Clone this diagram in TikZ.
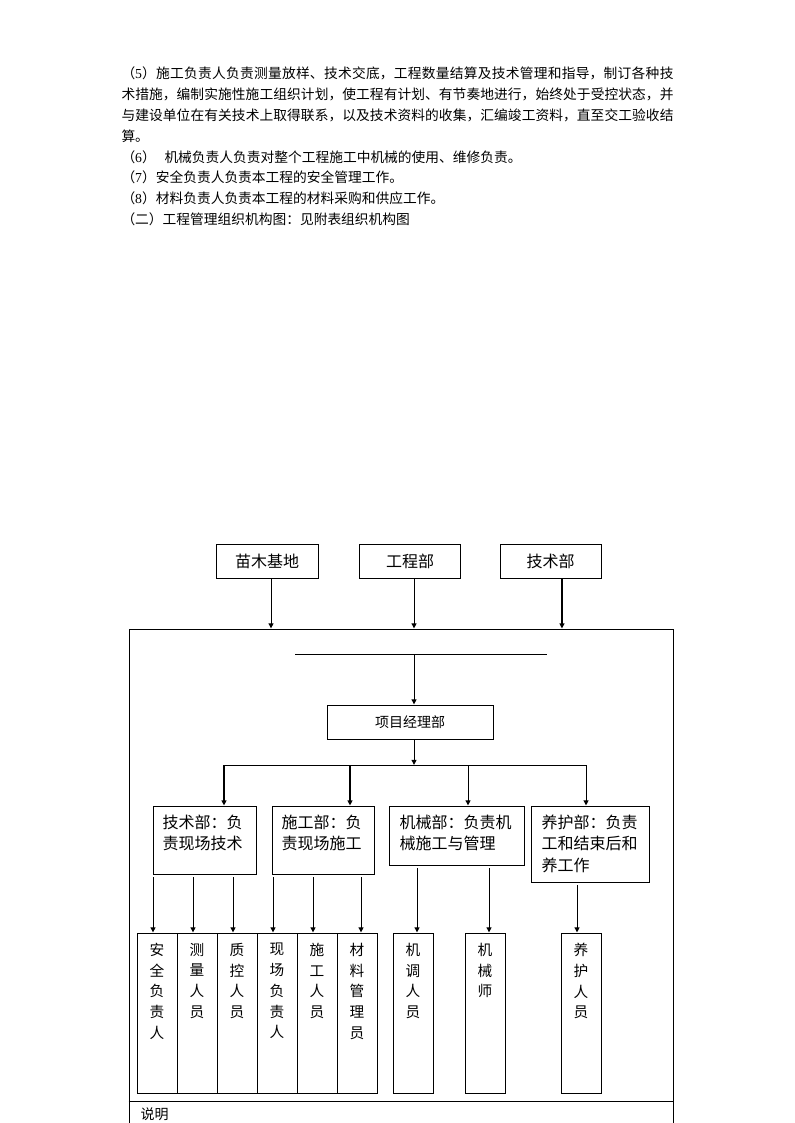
\documentclass[tikz,border=0pt]{standalone}
\usepackage{fontspec}
\newfontfamily\cjk{Noto Sans CJK SC}
\newfontfamily\lat{Liberation Serif}
\usetikzlibrary{arrows.meta}
\XeTeXlinebreaklocale "zh"
\XeTeXlinebreakskip=0pt plus 3pt
\newcommand\jline[1]{\parbox{414pt}{\parindent=0pt\parfillskip=0pt\relax #1\par}}
\begin{document}
\begin{tikzpicture}[x=0.75pt,y=-0.75pt,line width=0.75pt,
  box/.style args={#1/#2}{draw,minimum width=#1*0.75pt,minimum height=#2*0.75pt,inner sep=0pt},
  arr/.style={-{Triangle[length=3.8pt,width=3.6pt]}},
  thk/.style={line width=1.5pt},
  para/.style={font=\cjk\fontsize{10.3}{12}\selectfont,anchor=west,inner sep=0pt},
  t12/.style={font=\cjk\fontsize{12}{14}\selectfont,anchor=west,inner sep=0pt},
  vt/.style={font=\cjk\fontsize{11}{15.6}\selectfont,anchor=north,inner sep=0pt,align=center}]
\useasboundingbox (0,0) rectangle (794,1123);
\clip (0,0) rectangle (794,1123);

% paragraph text
\node[para] (l1) at (121,73) {\jline{（{\lat 5}）施工负责人负责测量放样、技术交底，工程数量结算及技术管理和指导，制订各种技}};
\node[para] (l2) at (121,94) {\jline{术措施，编制实施性施工组织计划，使工程有计划、有节奏地进行，始终处于受控状态，并}};
\node[para] (l3) at (121,115) {\jline{与建设单位在有关技术上取得联系，以及技术资料的收集，汇编竣工资料，直至交工验收结}};
\node[para] (l4) at (121,136) {算。};
\node[para] (l5) at (121,157) {（{\lat 6}）\hspace{6.5pt}机械负责人负责对整个工程施工中机械的使用、维修负责。};
\node[para] (l6) at (121,177.5) {（{\lat 7}）安全负责人负责本工程的安全管理工作。};
\node[para] (l7) at (121,198) {（{\lat 8}）材料负责人负责本工程的材料采购和供应工作。};
\node[para] (l8) at (121,219) {（二）工程管理组织机构图：见附表组织机构图};

% top boxes
\node[box=102/34,font=\cjk\fontsize{12}{14}\selectfont] (mm) at (267,561) {苗木基地};
\node[box=101/34,font=\cjk\fontsize{12}{14}\selectfont] (gc) at (410,561) {工程部};
\node[box=101/34,font=\cjk\fontsize{12}{14}\selectfont] (js) at (550.5,561) {技术部};

% big frame
\node[box=544/511] (main) at (401,884.5) {};
\coordinate (dv) at (0,1101);
\draw (main.west |- dv) -- (main.east |- dv);
\node[font=\cjk\fontsize{10.5}{12}\selectfont,anchor=west,inner sep=0pt] (sm) at (140,1114.5) {说明};

\draw[arr] ([xshift=3pt]mm.south) -- ([xshift=3pt]mm.south |- main.north);
\draw[arr] ([xshift=3pt]gc.south) -- ([xshift=3pt]gc.south |- main.north);
\draw[arr,thk] ([xshift=8.6pt]js.south) -- ([xshift=8.6pt]js.south |- main.north);

% project manager
\node[box=166/34,font=\cjk\fontsize{10.5}{12}\selectfont] (pm) at (410,722) {项目经理部};
\coordinate (h1) at (414,654);
\draw (295,654) -- (547,654);
\draw[arr] (h1) -- (h1 |- pm.north);
\coordinate (d) at (414,765);
\draw[arr] (h1 |- pm.south) -- (d);
\draw (224,765) -- (586,765);

% second tier
\node[box=103/68] (b1) at (204.5,840) {};
\node[box=102/68] (b2) at (323,840) {};
\node[box=135/59] (b3) at (456.5,835.5) {};
\node[box=118/76] (b4) at (590,844) {};
\node[t12] at (162,822) {技术部：负};
\node[t12] at (162,843) {责现场技术};
\node[t12] at (281,822) {施工部：负};
\node[t12] at (281,843) {责现场施工};
\node[t12] at (399,822) {机械部：负责机};
\node[t12] at (399,843) {械施工与管理};
\node[t12] at (541,822) {养护部：负责};
\node[t12] at (541,843) {工和结束后和};
\node[t12] at (541,865) {养工作};

\coordinate (a1) at (224,765);
\coordinate (a2) at (350,765);
\coordinate (a3) at (468,765);
\coordinate (a4) at (586,765);
\draw[arr,thk] (a1) -- (a1 |- b1.north);
\draw[arr,thk] (a2) -- (a2 |- b2.north);
\draw[arr] (a3) -- (a3 |- b3.north);
\draw[arr] (a4) -- (a4 |- b4.north);

% bottom cells
\node[box=40/160] (c1) at (157,1013) {};
\node[box=40/160] (c2) at (197,1013) {};
\node[box=40/160] (c3) at (237,1013) {};
\node[box=40/160] (c4) at (277,1013) {};
\node[box=40/160] (c5) at (317,1013) {};
\node[box=40/160] (c6) at (357,1013) {};
\node[box=40/160] (c7) at (413,1013) {};
\node[box=40/160] (c8) at (485,1013) {};
\node[box=40/160] (c9) at (581,1013) {};
\node[vt] at ([yshift=-7.5pt]c1.north) {安\\全\\负\\责\\人};
\node[vt] at ([yshift=-7.5pt]c2.north) {测\\量\\人\\员};
\node[vt] at ([yshift=-7.5pt]c3.north) {质\\控\\人\\员};
\node[vt] at ([yshift=-7.5pt]c4.north) {现\\场\\负\\责\\人};
\node[vt] at ([yshift=-7.5pt]c5.north) {施\\工\\人\\员};
\node[vt] at ([yshift=-7.5pt]c6.north) {材\\料\\管\\理\\员};
\node[vt] at ([yshift=-7.5pt]c7.north) {机\\调\\人\\员};
\node[vt] at ([yshift=-7.5pt]c8.north) {机\\械\\师};
\node[vt] at ([yshift=-7.5pt]c9.north) {养\\护\\人\\员};

\coordinate (p1) at (153,877);
\coordinate (p2) at (193,877);
\coordinate (p3) at (233,877);
\coordinate (p4) at (273,877);
\coordinate (p5) at (313,877);
\coordinate (p6) at (361,877);
\coordinate (p7) at (417,868);
\coordinate (p8) at (489,868);
\coordinate (p9) at (577,885);
\draw[arr] (p1) -- (p1 |- c1.north);
\draw[arr] (p2) -- (p2 |- c2.north);
\draw[arr] (p3) -- (p3 |- c3.north);
\draw[arr] (p4) -- (p4 |- c4.north);
\draw[arr] (p5) -- (p5 |- c5.north);
\draw[arr] (p6) -- (p6 |- c6.north);
\draw[arr] (p7) -- (p7 |- c7.north);
\draw[arr] (p8) -- (p8 |- c8.north);
\draw[arr] (p9) -- (p9 |- c9.north);
\end{tikzpicture}
\end{document}
